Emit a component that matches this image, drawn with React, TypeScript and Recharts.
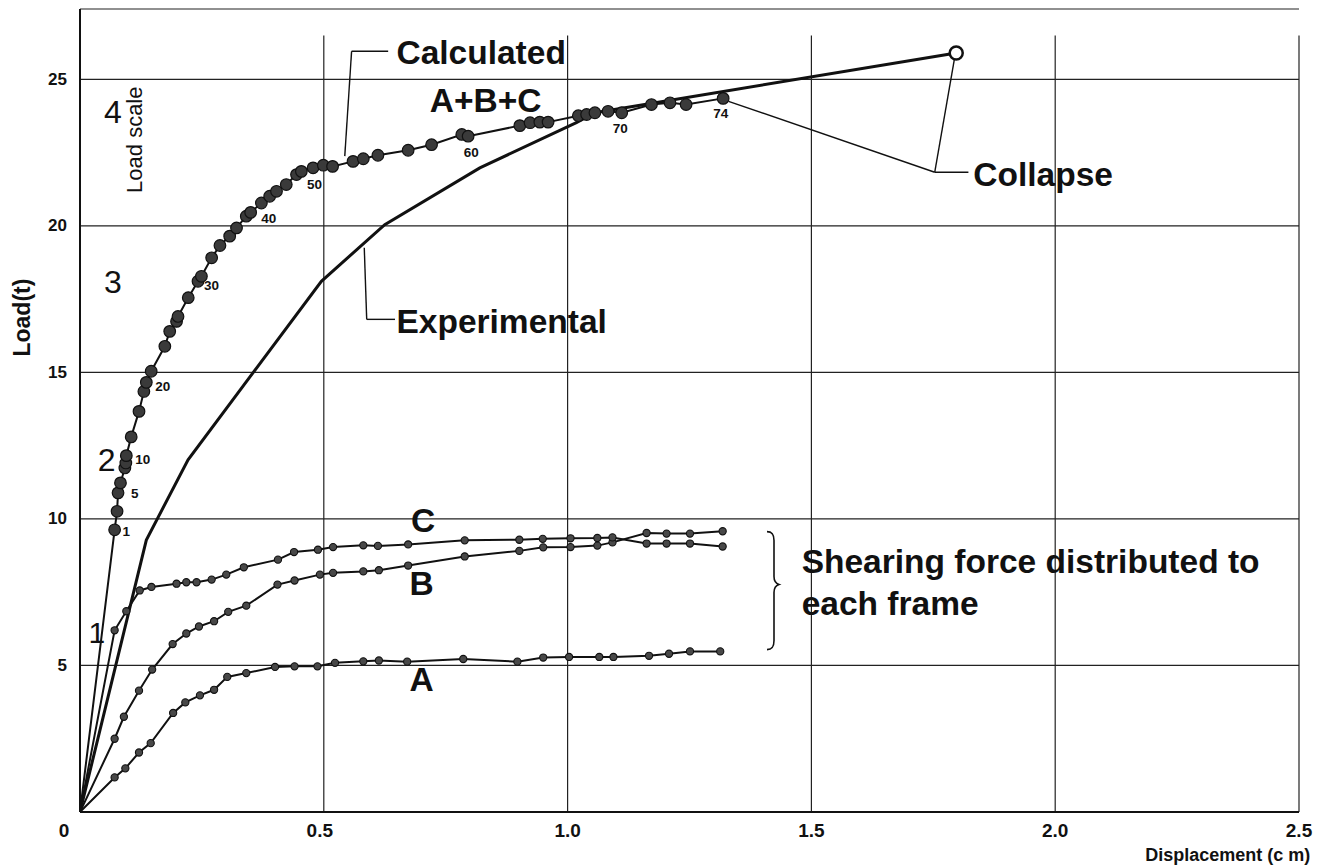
import React from 'react';
import {
  ComposedChart,
  Line,
  XAxis,
  YAxis,
  CartesianGrid,
  ReferenceLine,
  ReferenceDot,
} from 'recharts';

type P = { x: number; y: number };

// Calculated A+B+C curve (numbered loading steps)
const calculatedABC: P[] = [
  { x: 0, y: 0 }, { x: 0.071, y: 9.63 }, { x: 0.076, y: 10.26 }, { x: 0.078, y: 10.89 },
  { x: 0.083, y: 11.23 }, { x: 0.092, y: 11.74 }, { x: 0.094, y: 11.91 }, { x: 0.095, y: 12.16 },
  { x: 0.105, y: 12.8 }, { x: 0.121, y: 13.67 }, { x: 0.131, y: 14.35 }, { x: 0.136, y: 14.66 },
  { x: 0.146, y: 15.04 }, { x: 0.174, y: 15.89 }, { x: 0.184, y: 16.4 }, { x: 0.198, y: 16.74 },
  { x: 0.201, y: 16.91 }, { x: 0.222, y: 17.55 }, { x: 0.242, y: 18.11 }, { x: 0.249, y: 18.28 },
  { x: 0.27, y: 18.91 }, { x: 0.287, y: 19.33 }, { x: 0.307, y: 19.65 }, { x: 0.321, y: 19.93 },
  { x: 0.341, y: 20.33 }, { x: 0.35, y: 20.46 }, { x: 0.372, y: 20.78 }, { x: 0.389, y: 21.01 },
  { x: 0.403, y: 21.18 }, { x: 0.423, y: 21.41 }, { x: 0.444, y: 21.75 }, { x: 0.454, y: 21.86 },
  { x: 0.478, y: 21.98 }, { x: 0.499, y: 22.07 }, { x: 0.518, y: 22.03 }, { x: 0.56, y: 22.2 },
  { x: 0.581, y: 22.29 }, { x: 0.611, y: 22.41 }, { x: 0.673, y: 22.58 }, { x: 0.721, y: 22.77 },
  { x: 0.783, y: 23.12 }, { x: 0.796, y: 23.06 }, { x: 0.902, y: 23.42 }, { x: 0.923, y: 23.52 },
  { x: 0.943, y: 23.54 }, { x: 0.96, y: 23.54 }, { x: 1.022, y: 23.76 }, { x: 1.039, y: 23.8 },
  { x: 1.056, y: 23.86 }, { x: 1.083, y: 23.91 }, { x: 1.111, y: 23.86 }, { x: 1.172, y: 24.14 },
  { x: 1.21, y: 24.2 }, { x: 1.243, y: 24.14 }, { x: 1.319, y: 24.35 },
];

// Experimental curve up to collapse
const experimentalABC: P[] = [
  { x: 0, y: 0 }, { x: 0.136, y: 9.28 }, { x: 0.2216, y: 12.02 }, { x: 0.495, y: 18.11 },
  { x: 0.625, y: 20.04 }, { x: 0.82, y: 21.98 }, { x: 1.018, y: 23.52 }, { x: 1.056, y: 23.86 },
  { x: 1.797, y: 25.9 },
];

const collapsePoint: P[] = [{ x: 1.797, y: 25.9 }];

// Shearing force distributed to each frame
const frameA: P[] = [
  { x: 0, y: 0 }, { x: 0.071, y: 1.18 }, { x: 0.093, y: 1.49 }, { x: 0.121, y: 2.03 },
  { x: 0.145, y: 2.35 }, { x: 0.191, y: 3.38 }, { x: 0.216, y: 3.74 }, { x: 0.246, y: 3.98 },
  { x: 0.275, y: 4.17 }, { x: 0.302, y: 4.61 }, { x: 0.341, y: 4.74 }, { x: 0.4, y: 4.95 },
  { x: 0.44, y: 4.97 }, { x: 0.487, y: 4.97 }, { x: 0.523, y: 5.09 }, { x: 0.581, y: 5.14 },
  { x: 0.613, y: 5.17 }, { x: 0.671, y: 5.13 }, { x: 0.786, y: 5.22 }, { x: 0.897, y: 5.13 },
  { x: 0.95, y: 5.27 }, { x: 1.003, y: 5.29 }, { x: 1.065, y: 5.29 }, { x: 1.094, y: 5.29 },
  { x: 1.167, y: 5.33 }, { x: 1.208, y: 5.4 }, { x: 1.251, y: 5.48 }, { x: 1.313, y: 5.48 },
];

const frameB: P[] = [
  { x: 0, y: 0 }, { x: 0.071, y: 2.5 }, { x: 0.09, y: 3.25 }, { x: 0.121, y: 4.14 },
  { x: 0.148, y: 4.86 }, { x: 0.19, y: 5.73 }, { x: 0.218, y: 6.09 }, { x: 0.244, y: 6.33 },
  { x: 0.275, y: 6.51 }, { x: 0.304, y: 6.83 }, { x: 0.341, y: 7.04 }, { x: 0.405, y: 7.76 },
  { x: 0.44, y: 7.9 }, { x: 0.492, y: 8.1 }, { x: 0.519, y: 8.16 }, { x: 0.581, y: 8.21 },
  { x: 0.613, y: 8.25 }, { x: 0.673, y: 8.41 }, { x: 0.789, y: 8.72 }, { x: 0.901, y: 8.91 },
  { x: 0.95, y: 9.03 }, { x: 1.006, y: 9.04 }, { x: 1.061, y: 9.09 }, { x: 1.092, y: 9.2 },
  { x: 1.162, y: 9.52 }, { x: 1.203, y: 9.5 }, { x: 1.251, y: 9.5 }, { x: 1.318, y: 9.58 },
];

const frameC: P[] = [
  { x: 0, y: 0 }, { x: 0.071, y: 6.2 }, { x: 0.095, y: 6.85 }, { x: 0.1225, y: 7.56 },
  { x: 0.1465, y: 7.68 }, { x: 0.198, y: 7.79 }, { x: 0.218, y: 7.84 }, { x: 0.239, y: 7.84 },
  { x: 0.27, y: 7.93 }, { x: 0.3, y: 8.1 }, { x: 0.336, y: 8.35 }, { x: 0.406, y: 8.61 },
  { x: 0.439, y: 8.87 }, { x: 0.488, y: 8.95 }, { x: 0.519, y: 9.04 }, { x: 0.581, y: 9.1 },
  { x: 0.611, y: 9.08 }, { x: 0.673, y: 9.13 }, { x: 0.789, y: 9.27 }, { x: 0.901, y: 9.29 },
  { x: 0.949, y: 9.32 }, { x: 1.006, y: 9.34 }, { x: 1.061, y: 9.35 }, { x: 1.092, y: 9.37 },
  { x: 1.162, y: 9.16 }, { x: 1.203, y: 9.16 }, { x: 1.251, y: 9.16 }, { x: 1.318, y: 9.06 },
];

const xTicks = [0, 0.5, 1, 1.5, 2, 2.5];
const xTickLabels = ['0', '0.5', '1.0', '1.5', '2.0', '2.5'];
const yTicks = [0, 5, 10, 15, 20, 25];
const yTickLabels = ['', '5', '10', '15', '20', '25'];
const gridX = [0.5, 1, 1.5, 2, 2.5];
const stepNumbers = ['1', '5', '10', '20', '30', '40', '50', '60', '70', '74'];
const stepIndices = [1, 3, 7, 11, 18, 24, 32, 40, 50, 54];

const FONT = '"Liberation Sans", Arial, Helvetica, sans-serif';
const INK = '#111';
const STEP_OFFSETS: [number, number][] = [
  [8, 6], [13, 5], [9, 8], [9, 9], [6, 9], [15, 7], [-6, 21], [2, 23], [-9, 20], [-10, 20],
];

const renderCalcDot = (props: any) => {
  const { cx, cy, index } = props;
  const k = stepIndices.indexOf(index);
  return (
    <g key={`cd-${index}`}>
      {index > 0 ? (
        <circle cx={cx} cy={cy} r={5.8} fill="#3a3a3a" stroke={INK} strokeWidth={1.2} />
      ) : null}
      {k >= 0 ? (
        <text
          x={cx + STEP_OFFSETS[k][0]}
          y={cy + STEP_OFFSETS[k][1]}
          fontFamily={FONT}
          fontWeight="bold"
          fontSize={13.5}
          fill={INK}
        >
          {stepNumbers[k]}
        </text>
      ) : null}
    </g>
  );
};

const renderFrameDot = (props: any) => {
  const { cx, cy, index } = props;
  if (index === 0) return <g key={`fd-${index}`} />;
  return <circle key={`fd-${index}`} cx={cx} cy={cy} r={3.6} fill="#484848" stroke={INK} strokeWidth={1.1} />;
};

const XTick = (props: any) => {
  const { x, y, payload } = props;
  const i = xTicks.indexOf(payload.value);
  const dx = i === 0 ? -16 : i === 1 ? -4 : 0;
  return (
    <text
      x={x + dx}
      y={y + 18}
      textAnchor="middle"
      dominantBaseline="central"
      fontFamily={FONT}
      fontWeight="bold"
      fontSize={19}
      fill={INK}
    >
      {xTickLabels[i]}
    </text>
  );
};

const YTick = (props: any) => {
  const { x, y, payload } = props;
  const i = yTicks.indexOf(payload.value);
  return (
    <text
      x={x - 13}
      y={y}
      textAnchor="end"
      dominantBaseline="central"
      fontFamily={FONT}
      fontWeight="bold"
      fontSize={17}
      fill={INK}
    >
      {yTickLabels[i]}
    </text>
  );
};

type NoteOpts = {
  size?: number;
  weight?: string;
  anchor?: 'start' | 'middle' | 'end';
  baseline?: string;
  rotate?: number;
};

const note = (key: string, x: number, y: number, text: string, o: NoteOpts = {}) => (
  <ReferenceDot
    key={key}
    x={x}
    y={y}
    r={0}
    ifOverflow="visible"
    shape={(p: any) => (
      <text
        x={p.cx}
        y={p.cy}
        textAnchor={o.anchor ?? 'start'}
        dominantBaseline={o.baseline ?? 'alphabetic'}
        fontFamily={FONT}
        fontWeight={o.weight ?? 'bold'}
        fontSize={o.size ?? 33.5}
        fill={INK}
        transform={o.rotate ? `rotate(${o.rotate} ${p.cx} ${p.cy})` : undefined}
      >
        {text}
      </text>
    )}
  />
);

const pointer = (key: string, a: P, b: P) => (
  <ReferenceLine key={key} segment={[a, b]} stroke={INK} strokeWidth={1.4} ifOverflow="visible" />
);

export default function App() {
  return (
    <div style={{ position: 'absolute', left: 0, top: 0, width: 1330, height: 865, background: '#fff' }}>
      <ComposedChart width={1330} height={865} margin={{ top: 9, right: 31, bottom: 0, left: 0 }}>
        <CartesianGrid vertical={false} stroke="#222" strokeWidth={1.2} />
        <XAxis
          type="number"
          dataKey="x"
          domain={[0, 2.5]}
          ticks={xTicks}
          height={53}
          tickSize={0}
          tickMargin={0}
          tickLine={false}
          axisLine={{ stroke: INK, strokeWidth: 2 }}
          tick={<XTick />}
          allowDataOverflow
        />
        <YAxis
          type="number"
          dataKey="y"
          domain={[0, 27.4]}
          ticks={yTicks}
          width={80}
          tickSize={0}
          tickMargin={0}
          tickLine={false}
          axisLine={{ stroke: INK, strokeWidth: 2 }}
          tick={<YTick />}
          allowDataOverflow
        />
        {gridX.map((v) => (
          <ReferenceLine
            key={`gx-${v}`}
            segment={[{ x: v, y: 0 }, { x: v, y: 26.5 }]}
            stroke="#222"
            strokeWidth={1.2}
          />
        ))}

        {pointer('pc1', { x: 0.557, y: 25.96 }, { x: 0.632, y: 25.96 })}
        {pointer('pc2', { x: 0.557, y: 25.96 }, { x: 0.543, y: 22.38 })}
        {pointer('pe1', { x: 0.588, y: 16.81 }, { x: 0.646, y: 16.81 })}
        {pointer('pe2', { x: 0.588, y: 16.81 }, { x: 0.583, y: 19.25 })}
        {pointer('pk1', { x: 1.753, y: 21.83 }, { x: 1.822, y: 21.83 })}
        {pointer('pk2', { x: 1.753, y: 21.83 }, { x: 1.793, y: 25.66 })}
        {pointer('pk3', { x: 1.753, y: 21.83 }, { x: 1.33, y: 24.25 })}

        <Line
          data={frameA}
          dataKey="y"
          type="linear"
          stroke={INK}
          strokeWidth={2}
          dot={renderFrameDot}
          activeDot={false}
          isAnimationActive={false}
        />
        <Line
          data={frameB}
          dataKey="y"
          type="linear"
          stroke={INK}
          strokeWidth={2}
          dot={renderFrameDot}
          activeDot={false}
          isAnimationActive={false}
        />
        <Line
          data={frameC}
          dataKey="y"
          type="linear"
          stroke={INK}
          strokeWidth={2}
          dot={renderFrameDot}
          activeDot={false}
          isAnimationActive={false}
        />
        <Line
          data={experimentalABC}
          dataKey="y"
          type="linear"
          stroke={INK}
          strokeWidth={3}
          dot={false}
          activeDot={false}
          isAnimationActive={false}
        />
        <Line
          data={calculatedABC}
          dataKey="y"
          type="linear"
          stroke={INK}
          strokeWidth={2}
          dot={renderCalcDot}
          activeDot={false}
          isAnimationActive={false}
        />
        <Line
          data={collapsePoint}
          dataKey="y"
          stroke="none"
          dot={{ r: 6.5, fill: '#fff', stroke: INK, strokeWidth: 2.5 }}
          activeDot={false}
          isAnimationActive={false}
        />

        {note('t-calc', 0.649, 25.53, 'Calculated')}
        {note('t-abc', 0.7175, 23.87, 'A+B+C')}
        {note('t-exp', 0.649, 16.35, 'Experimental')}
        {note('t-col', 1.832, 21.35, 'Collapse')}
        {note('t-sh1', 1.48, 8.16, 'Shearing force distributed to')}
        {note('t-sh2', 1.48, 6.73, 'each frame')}
        {note('t-C', 0.7037, 9.57, 'C', { anchor: 'middle' })}
        {note('t-B', 0.7004, 7.41, 'B', { anchor: 'middle' })}
        {note('t-A', 0.7004, 4.12, 'A', { anchor: 'middle' })}
        {note('t-ls', 0.112, 22.94, 'Load scale', { size: 22, weight: 'normal', anchor: 'middle', baseline: 'central', rotate: -90 })}
        {note('t-l4', 0.0673, 23.87, '4', { size: 32, weight: 'normal', anchor: 'middle', baseline: 'central' })}
        {note('t-l3', 0.0673, 18.07, '3', { size: 32, weight: 'normal', anchor: 'middle', baseline: 'central' })}
        {note('t-l2', 0.0548, 12.02, '2', { size: 32, weight: 'normal', anchor: 'middle', baseline: 'central' })}
        {note('t-l1', 0.0343, 6.12, '1', { size: 30, weight: 'normal', anchor: 'middle', baseline: 'central' })}
        {note('t-ylab', -0.1196, 16.87, 'Load(t)', { size: 23, anchor: 'middle', baseline: 'central', rotate: -90 })}
        {note('t-xlab', 2.523, -1.46, 'Displacement (c m)', { size: 18, anchor: 'end', baseline: 'central' })}

        <ReferenceDot
          x={1.4315}
          y={7.76}
          r={0}
          ifOverflow="visible"
          shape={(p: any) => {
            const tx = p.cx;
            const ty = p.cy;
            const d = `M ${tx - 11} ${ty - 53} C ${tx - 5} ${ty - 53} ${tx - 4} ${ty - 49} ${tx - 4} ${ty - 44} L ${tx - 4} ${ty - 8} C ${tx - 4} ${ty - 3} ${tx - 2} ${ty - 1} ${tx + 1} ${ty} C ${tx - 2} ${ty + 1} ${tx - 4} ${ty + 3} ${tx - 4} ${ty + 8} L ${tx - 4} ${ty + 56} C ${tx - 4} ${ty + 61} ${tx - 5} ${ty + 65} ${tx - 11} ${ty + 65}`;
            return <path d={d} fill="none" stroke={INK} strokeWidth={1.6} />;
          }}
        />
      </ComposedChart>
    </div>
  );
}
